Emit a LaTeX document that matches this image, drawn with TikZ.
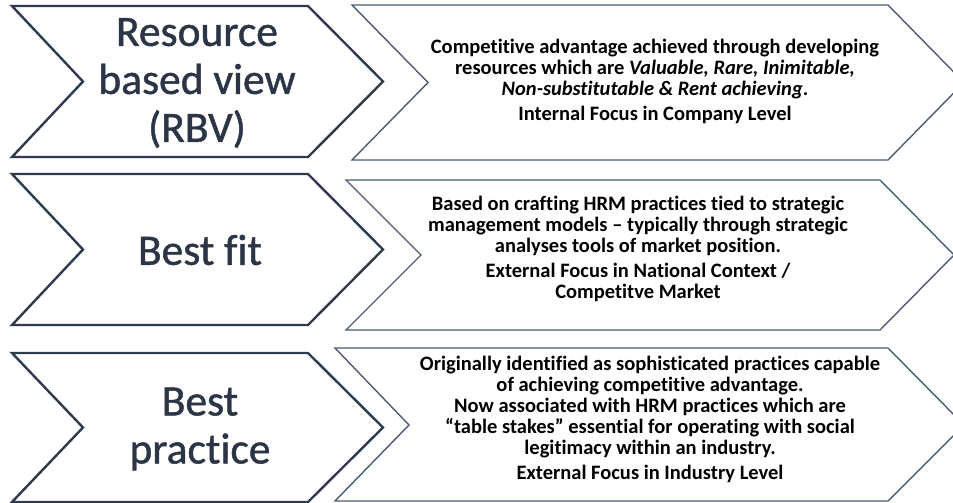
\documentclass[tikz,border=0pt]{standalone}
\usepackage{fontspec}
\setmainfont[RawFeature=-liga]{Carlito}
\definecolor{leftline}{HTML}{2F3B4D}
\definecolor{rightline}{HTML}{4C5C72}
\definecolor{bigtext}{HTML}{2B3545}
\newcommand{\outlinedtxt}[1]{\special{pdf:literal 2 Tr 0.45 w}#1\special{pdf:literal 0 Tr}}
\begin{document}
\begin{tikzpicture}[x=1pt,y=-1pt,
  leftchev/.style={draw=leftline,line width=2.4pt,line join=miter,fill=white},
  rightchev/.style={draw=rightline,line width=1.4pt,line join=miter,fill=white},
  bigtxt/.style={align=center,text=bigtext,font=\fontsize{43.5}{48}\selectfont,inner sep=0pt},
  desctxt/.style={align=center,text=black,font=\fontsize{20.5}{21}\selectfont\bfseries,inner sep=0pt}]
\useasboundingbox (0,0) rectangle (953,503);
\clip (0,0) rectangle (953,503);
% row 1
\draw[leftchev] (12,6) -- (308,6) -- (383,81.5) -- (308,157) -- (12,157) -- (83,81.5) -- cycle;
\draw[rightchev] (352,5) -- (888,5) -- (964,82.5) -- (888,160) -- (352,160) -- (428,82.5) -- cycle;
% row 2
\draw[leftchev] (12,174) -- (308,174) -- (383,249.5) -- (308,325) -- (12,325) -- (83,249.5) -- cycle;
\draw[rightchev] (346,180) -- (880,180) -- (954,255) -- (880,330) -- (346,330) -- (421,255) -- cycle;
% row 3
\draw[leftchev] (12,353) -- (308,353) -- (383,427.5) -- (308,502) -- (12,502) -- (83,427.5) -- cycle;
\draw[rightchev] (335,348) -- (888,348) -- (964,425) -- (888,501) -- (335,501) -- (409,425) -- cycle;

\node[bigtxt] (rbv) at (197,83) {\outlinedtxt{Resource}\\\outlinedtxt{based view}\\\outlinedtxt{(RBV)}};
\node[bigtxt] (fit) at (200,250) {\outlinedtxt{Best fit}};
\node[bigtxt] (prac) at (200,429) {\outlinedtxt{Best}\\\outlinedtxt{practice}};

\node[desctxt] (d1) at (655,81) {Competitive advantage achieved through developing\\
resources which are \textit{Valuable, Rare, Inimitable,}\\
\textit{Non-substitutable \& Rent achieving}.\\[4pt]
Internal Focus in Company Level};
\node[desctxt] (d2) at (638,249) {Based on crafting HRM practices tied to strategic\\
management models – typically through strategic\\
analyses tools of market position.\\[4pt]
External Focus in National Context /\\
Competitve Market};
\node[desctxt] (d3) at (650,419) {Originally identified as sophisticated practices capable\\
of achieving competitive advantage.\\
Now associated with HRM practices which are\\
“table stakes” essential for operating with social\\
legitimacy within an industry.\\[4pt]
External Focus in Industry Level};
\end{tikzpicture}
\end{document}
